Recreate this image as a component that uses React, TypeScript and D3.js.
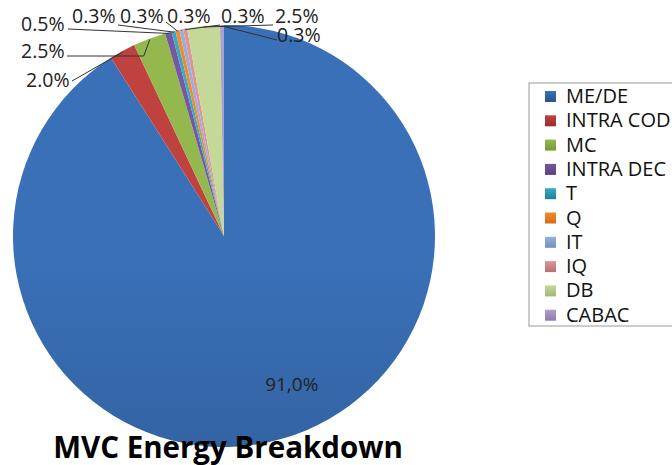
import * as d3 from "d3";

const categories = ["ME/DE", "INTRA COD", "MC", "INTRA DEC", "T", "Q", "IT", "IQ", "DB", "CABAC"];
const values = [91.0, 2.0, 2.5, 0.5, 0.3, 0.3, 0.3, 0.3, 2.5, 0.3];
const valueLabels = ["91,0%", "2.0%", "2.5%", "0.5%", "0.3%", "0.3%", "0.3%", "0.3%", "2.5%", "0.3%"];

// gradient stops [top, bottom] per slice, Excel-like
const colors: [string, string][] = [
  ["#3a70b8", "#2a5389"],
  ["#c0423f", "#9c2b2b"],
  ["#94b84e", "#76993a"],
  ["#7757a0", "#5b3f82"],
  ["#35acc8", "#217f98"],
  ["#f58a2a", "#d66a14"],
  ["#95b0de", "#7590bb"],
  ["#de9594", "#b87170"],
  ["#c4d898", "#a2b877"],
  ["#ad9ecb", "#8c7ca9"],
];

// label placement: text left x, baseline y, leader start x, y (null = inside label)
const labelLayout: ({ x: number; y: number; lx: number; ly: number } | null)[] = [
  null,
  { x: 26, y: 87, lx: 72, ly: 81 },
  { x: 21, y: 58, lx: 67, ly: 56 },
  { x: 21, y: 31, lx: 68, ly: 29 },
  { x: 72, y: 23, lx: 118, ly: 25 },
  { x: 120, y: 23, lx: 166, ly: 22 },
  { x: 167, y: 23, lx: 182, ly: 31 },
  { x: 221, y: 23, lx: 220, ly: 25 },
  { x: 275, y: 23, lx: 273, ly: 25 },
  { x: 277, y: 42, lx: 277, ly: 40 },
];

export default function App() {
  const width = 672;
  const height = 465;
  const cx = 224;
  const cy = 236;
  const r = 211;

  const data = categories.map((c, i) => ({ label: c, value: values[i], i }));
  const pie = d3.pie<{ label: string; value: number; i: number }>().value((d) => d.value).sort(null);
  const arcs = pie(data);
  const arc = d3.arc<d3.PieArcDatum<{ label: string; value: number; i: number }>>().innerRadius(0).outerRadius(r);

  const legendX = 529;
  const legendY = 83;
  const rowH = 24.3;

  return (
    <svg width={width} height={height} style={{ position: "absolute", left: 0, top: 0 }} fontFamily="'Open Sans', sans-serif">
      <defs>
        {colors.map((c, i) => (
          <linearGradient key={i} id={`g${i}`} x1="0" y1={cy - r} x2="0" y2={cy + r} gradientUnits="userSpaceOnUse">
            <stop offset="0" stopColor={c[0]} />
            <stop offset="1" stopColor={c[1]} />
          </linearGradient>
        ))}
        {colors.map((c, i) => (
          <linearGradient key={"l" + i} id={`lg${i}`} x1="0" y1="0" x2="0" y2="1">
            <stop offset="0" stopColor={c[0]} />
            <stop offset="1" stopColor={c[1]} />
          </linearGradient>
        ))}
      </defs>
      <rect width={width} height={height} fill="#fff" />
      <g transform={`translate(${cx},${cy})`}>
        {arcs.map((a, i) => (
          <path key={i} d={arc(a) ?? ""} fill={`url(#g${i})`} />
        ))}
      </g>
      {/* leader lines + labels */}
      {arcs.map((a, i) => {
        const lay = labelLayout[i];
        if (!lay) {
          const [x, y] = d3.arc<any>().innerRadius(0).outerRadius(r * 1.35).centroid(a);
          return (
            <text key={i} x={cx + x + 28} y={cy + y + 18} fontSize={19} fill="#222" textAnchor="middle">
              {valueLabels[i]}
            </text>
          );
        }
        const mid = (a.startAngle + a.endAngle) / 2;
        const ex = cx + Math.sin(mid) * (r - 1);
        const ey = cy - Math.cos(mid) * (r - 1);
        const pts: [number, number][] = i === 2 ? [[lay.lx, lay.ly], [ex - 6, lay.ly], [ex, ey]] : [[lay.lx, lay.ly], [ex, ey]];
        return (
          <g key={i}>
            <path d={d3.line()(pts) ?? ""} fill="none" stroke="#333" strokeWidth={1} />
            <text x={lay.x} y={lay.y} fontSize={19.5} fill="#222">
              {valueLabels[i]}
            </text>
          </g>
        );
      })}
      {/* legend */}
      <rect x={legendX} y={legendY} width={160} height={243} fill="#fff" stroke="#999" strokeWidth={1} />
      {categories.map((c, i) => (
        <g key={c} transform={`translate(${legendX + 16},${legendY + 13 + i * rowH})`}>
          <rect x={0} y={-5} width={11} height={11} fill={`url(#lg${i})`} />
          <text x={21} y={7} fontSize={20} fill="#111">
            {c}
          </text>
        </g>
      ))}
      <text x={228} y={458} fontSize={29.5} fontWeight="bold" textAnchor="middle" fill="#000">
        MVC Energy Breakdown
      </text>
    </svg>
  );
}
